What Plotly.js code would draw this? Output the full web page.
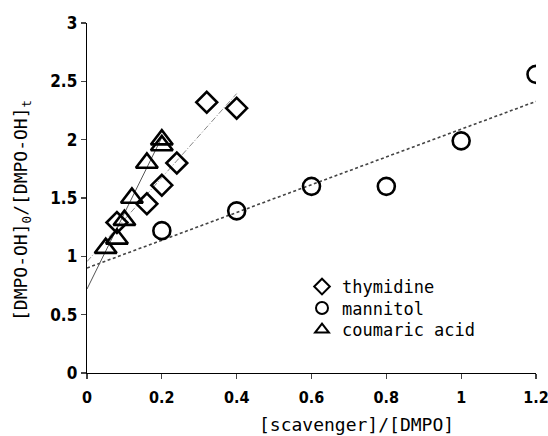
<!DOCTYPE html>
<html><head><meta charset="utf-8">
<script src="https://cdn.plot.ly/plotly-3.0.1.min.js"></script>
<style>html,body{margin:0;padding:0;background:#fff}#chart{width:548px;height:436px}</style>
</head><body><div id="chart"></div>
<script>
// Data
const seriesNames = ["thymidine", "mannitol", "coumaric acid"];
const thymidineX = [0.08, 0.16, 0.20, 0.24, 0.32, 0.40];
const thymidineY = [1.29, 1.45, 1.61, 1.80, 2.32, 2.27];
const mannitolX = [0.2, 0.4, 0.6, 0.8, 1.0, 1.2];
const mannitolY = [1.22, 1.39, 1.60, 1.60, 1.99, 2.56];
const coumaricX = [0.05, 0.08, 0.10, 0.12, 0.16, 0.20, 0.20];
const coumaricY = [1.07, 1.15, 1.31, 1.50, 1.80, 1.95, 2.00];
// Linear fits: slope, intercept, x-extent
const fitSlope = [3.6, 1.19, 6.5];
const fitIntercept = [0.955, 0.90, 0.72];
const fitXStart = [0, 0, 0];
const fitXEnd = [0.4, 1.2, 0.2];
const xTickVals = [0, 0.2, 0.4, 0.6, 0.8, 1.0, 1.2];
const yTickVals = [0, 0.5, 1, 1.5, 2, 2.5, 3];
const xTitle = "[scavenger]/[DMPO]";
const yTitle = "[DMPO-OH]<sub>0</sub>/[DMPO-OH]<sub>t</sub>";

const symbols = ["diamond-open", "circle-open", "triangle-up-open"];
const sizes = [16, 17, 19];
const lineStyles = [
  {color: "#888", width: 1, dash: "6px,2px,1px,2px"},
  {color: "#444", width: 1.6, dash: "3px,2.5px"},
  {color: "#555", width: 1, dash: "solid"}
];
const legendIds = ["legend", "legend2", "legend3"];
const xs = [thymidineX, mannitolX, coumaricX];
const ys = [thymidineY, mannitolY, coumaricY];

const traces = [];
for (let i = 0; i < 3; i++) {
  traces.push({
    x: [fitXStart[i], fitXEnd[i]],
    y: [fitIntercept[i] + fitSlope[i] * fitXStart[i], fitIntercept[i] + fitSlope[i] * fitXEnd[i]],
    mode: "lines", line: lineStyles[i], showlegend: false, hoverinfo: "skip"
  });
}
for (let i = 0; i < 3; i++) {
  traces.push({
    x: xs[i], y: ys[i], name: seriesNames[i], mode: "markers", legend: legendIds[i],
    marker: {symbol: symbols[i], size: sizes[i], color: "#000", line: {color: "#000", width: 2.6}}
  });
}

const mono = "DejaVu Sans Mono, Liberation Mono, monospace";
const tickFam = "DejaVu Sans Condensed, Liberation Sans Narrow, DejaVu Sans, sans-serif";
// plot area: left 87, right 536, top 23, bottom 373
const L = 87, R = 536, T = 23, B = 373;
const legendRowsPx = [287, 308.5, 330];
function legendAt(py) {
  return {x: (302 - L) / (R - L), y: (B - py) / (B - T), xanchor: "left", yanchor: "middle",
          bgcolor: "rgba(255,255,255,0)", borderwidth: 0,
          font: {family: mono, size: 17, color: "#000"}, itemsizing: "constant"};
}
const layout = {
  width: 548, height: 436,
  margin: {l: L, r: 548 - R, t: T, b: 436 - B},
  paper_bgcolor: "#fff", plot_bgcolor: "#fff",
  showlegend: true,
  legend: legendAt(legendRowsPx[0]),
  legend2: legendAt(legendRowsPx[1]),
  legend3: legendAt(legendRowsPx[2]),
  xaxis: {range: [0, 1.2], tickvals: xTickVals, ticks: "outside", ticklen: 5, tickwidth: 1.2,
          showline: true, linecolor: "#000", linewidth: 1.3, showgrid: false, zeroline: false,
          ticklabeloverflow: "allow", ticklabelstandoff: 4,
          tickfont: {family: tickFam, size: 16, color: "#000", weight: "bold"}},
  yaxis: {range: [0, 3], tickvals: yTickVals, ticks: "outside", ticklen: 5, tickwidth: 1.2,
          showline: true, linecolor: "#000", linewidth: 1.3, showgrid: false, zeroline: false,
          ticklabeloverflow: "allow",
          tickfont: {family: tickFam, size: 17, color: "#000", weight: "bold"}},
  annotations: [
    {text: xTitle, xref: "paper", yref: "paper", x: (356 - L) / (R - L), y: (B - 424) / (B - T),
     xanchor: "center", yanchor: "middle", showarrow: false,
     font: {family: mono, size: 18, color: "#000"}},
    {text: yTitle, xref: "paper", yref: "paper", x: (22 - L) / (R - L), y: (B - 211) / (B - T),
     xanchor: "center", yanchor: "middle", showarrow: false, textangle: -90,
     font: {family: mono, size: 18, color: "#000"}}
  ]
};
Plotly.newPlot("chart", traces, layout, {displayModeBar: false, staticPlot: true});
</script></body></html>
